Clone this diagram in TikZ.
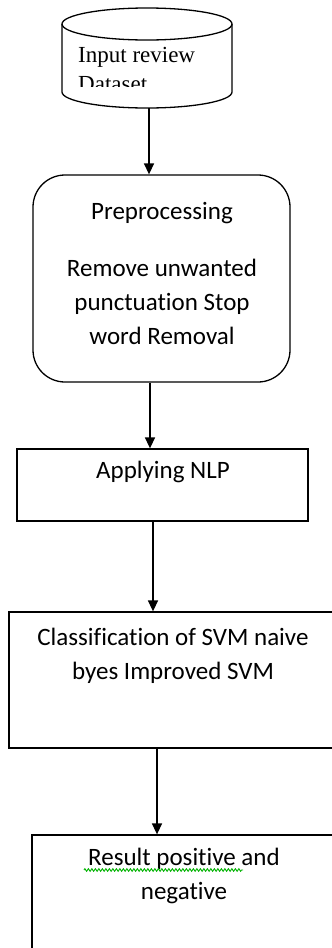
\documentclass[tikz,border=0pt]{standalone}
\usepackage{fontspec}
\setmainfont{Carlito}[Ligatures={NoCommon}]
\newfontfamily\timesfont{Liberation Serif}
\usetikzlibrary{arrows.meta,decorations.pathmorphing}
\begin{document}
\begin{tikzpicture}[x=1pt,y=-1pt,
  box/.style={draw, line width=1.3pt, inner sep=0pt},
  txt/.style={inner sep=0pt, align=center, anchor=north, text=black, font=\fontsize{25}{34}\selectfont},
  arr/.style={-{Triangle[length=11pt,width=10pt]}, line width=1.4pt},
  squig/.style={draw=green!70!black, line width=0.9pt, decorate, decoration={zigzag, segment length=3.5pt, amplitude=1.3pt}}]
\useasboundingbox (0,0) rectangle (332,948);
\clip (0,0) rectangle (332,948);
% cylinder
\node[inner sep=0pt, minimum width=170pt, minimum height=100pt] (cyl) at (147,58) {};
\draw[line width=1.3pt] (147,24) ellipse [x radius=85pt, y radius=16pt];
\draw[line width=1.3pt] (62,24) -- (62,92) arc[start angle=180, end angle=360, x radius=85pt, y radius=16pt] -- (232,24);
\begin{scope}
\clip (62,40) rectangle (232,86);
\node[inner sep=0pt, anchor=north west, align=left, text=black, font=\timesfont\fontsize{23}{29}\selectfont] (cyltext) at (78,47) {Input review\\Dataset};
\end{scope}
% boxes
\node[box, rounded corners=32pt, minimum width=257pt, minimum height=207pt] (pre) at (161.5,278.5) {};
\node[box, minimum width=291pt, minimum height=72pt] (nlp) at (162.5,485) {};
\node[box, minimum width=328pt, minimum height=136pt] (cls) at (173,680) {};
\node[box, minimum width=304pt, minimum height=125pt] (res) at (184,897.5) {};
% texts
\node[txt] (pretext) at (162,202) {Preprocessing\\[23pt]Remove unwanted\\punctuation Stop\\word Removal};
\node[txt] (nlptext) at (163,461) {Applying NLP};
\node[txt] (clstext) at (173,628) {Classification of SVM naive\\byes Improved SVM};
\node[txt] (restext) at (184,848) {Result positive and\\negative};
\draw[squig] (84,870) -- (243,870);
% arrows
\coordinate (a1) at (149,0);
\coordinate (a2) at (150,0);
\coordinate (a3) at (153,0);
\coordinate (a4) at (157,0);
\draw[arr] (cyl.south -| a1) -- (pre.north -| a1);
\draw[arr] (pre.south -| a2) -- (nlp.north -| a2);
\draw[arr] (nlp.south -| a3) -- (cls.north -| a3);
\draw[arr] (cls.south -| a4) -- (res.north -| a4);
\end{tikzpicture}
\end{document}
